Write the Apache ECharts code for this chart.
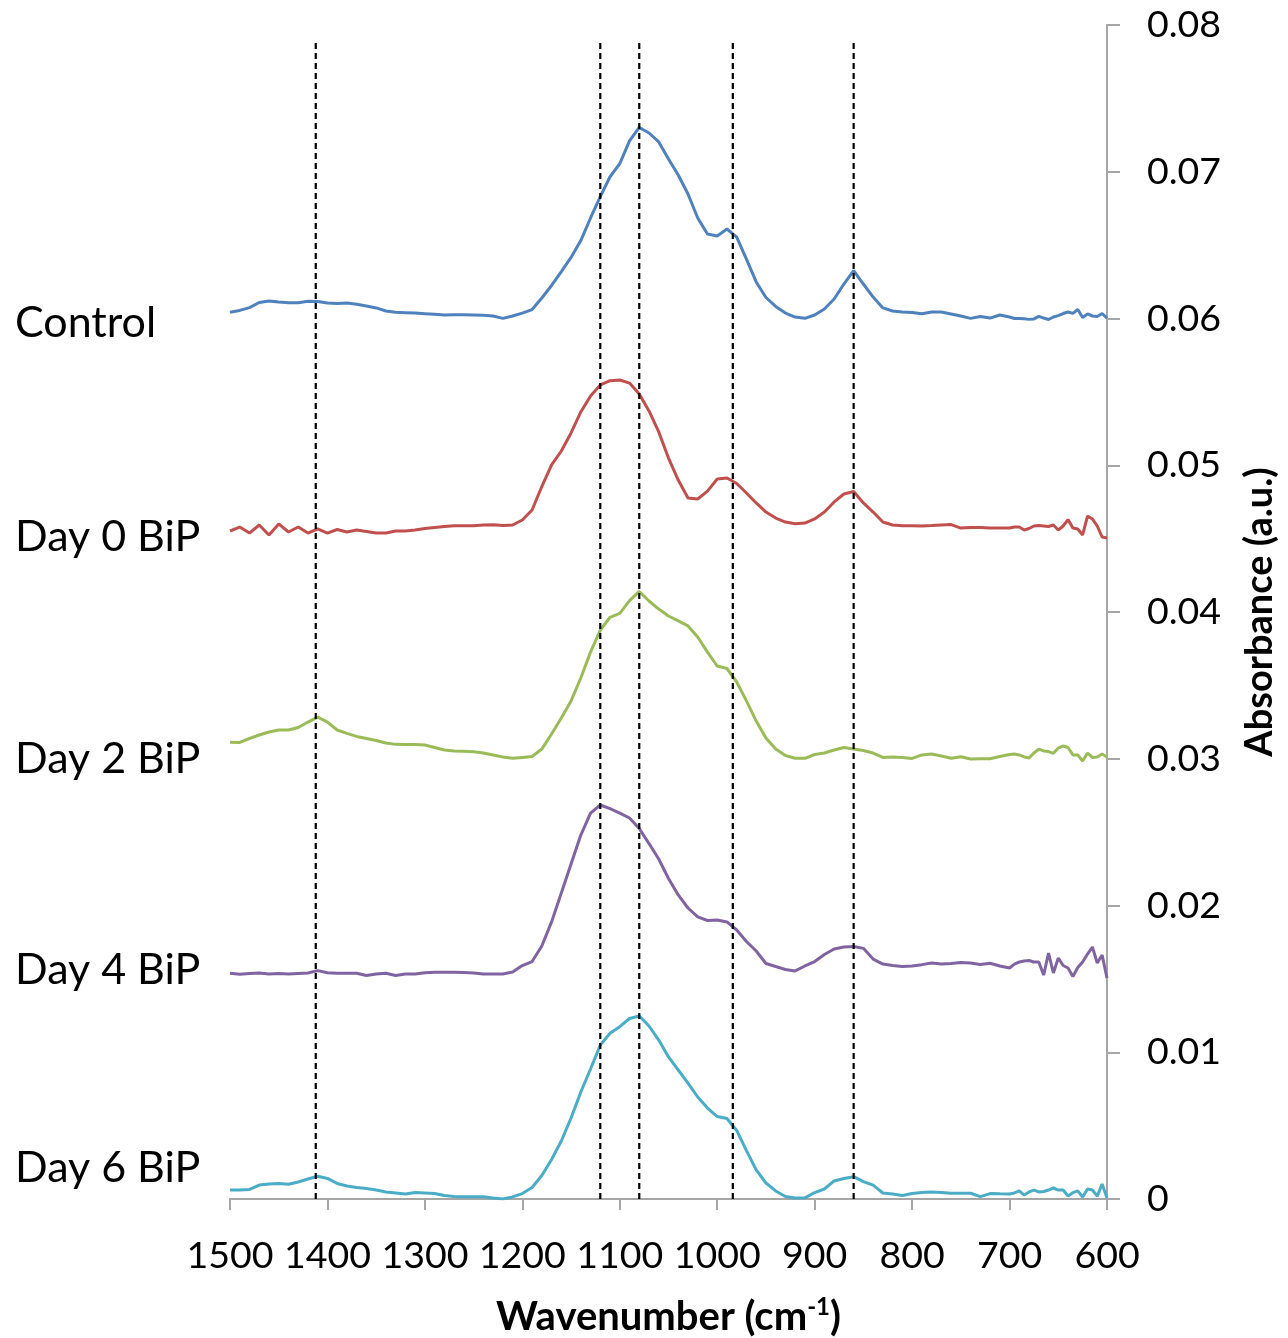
<!DOCTYPE html>
<html>
<head>
<meta charset="utf-8">
<script src="https://cdn.jsdelivr.net/npm/echarts@6/dist/echarts.min.js"></script>
<style>
  html, body { margin: 0; padding: 0; background: #ffffff; }
  #chart { width: 1288px; height: 1338px; }
</style>
</head>
<body>
<div id="chart"></div>
<script>
// Wavenumber grid (cm-1)
const wavenumbers = [
  1500,1490,1480,1470,1460,1450,1440,1430,1420,1410,
  1400,1390,1380,1370,1360,1350,1340,1330,1320,1310,
  1300,1290,1280,1270,1260,1250,1240,1230,1220,1210,
  1200,1190,1180,1170,1160,1150,1140,1130,1120,1110,
  1100,1090,1080,1070,1060,1050,1040,1030,1020,1010,
  1000,990,980,970,960,950,940,930,920,910,
  900,890,880,870,860,850,840,830,820,810,
  800,790,780,770,760,750,740,730,720,710,
  700,695,690,685,680,675,670,665,660,655,
  650,645,640,635,630,625,620,615,610,605,600
];

const control = [
  0.06042,0.06055,0.06074,0.06109,0.06119,0.06112,0.06108,0.06108,0.06117,0.06116,
  0.06106,0.06102,0.06106,0.06097,0.06085,0.06072,0.06051,0.06042,0.06040,0.06037,
  0.06033,0.06029,0.06024,0.06025,0.06026,0.06024,0.06022,0.06017,0.06001,0.06017,
  0.06037,0.06061,0.06140,0.06225,0.06320,0.06416,0.06531,0.06685,0.06831,0.06966,
  0.07056,0.07210,0.07302,0.07264,0.07203,0.07087,0.06978,0.06848,0.06685,0.06576,
  0.06562,0.06610,0.06555,0.06405,0.06249,0.06143,0.06082,0.06037,0.06010,0.06001,
  0.06024,0.06065,0.06133,0.06235,0.06326,0.06235,0.06146,0.06072,0.06051,0.06044,
  0.06041,0.06033,0.06044,0.06044,0.06031,0.06017,0.06001,0.06014,0.06003,0.06024,
  0.06010,0.06000,0.06000,0.05998,0.05994,0.05997,0.06014,0.06003,0.05993,0.06010,
  0.06020,0.06034,0.06044,0.06035,0.06061,0.06007,0.06031,0.06017,0.06014,0.06034,0.06003
];

const day0 = [
  0.04552,0.04579,0.04538,0.04593,0.04525,0.04600,0.04545,0.04579,0.04538,0.04566,
  0.04538,0.04562,0.04545,0.04559,0.04549,0.04538,0.04538,0.04552,0.04552,0.04559,
  0.04569,0.04576,0.04583,0.04588,0.04588,0.04588,0.04593,0.04595,0.04589,0.04593,
  0.04627,0.04695,0.04855,0.05002,0.05097,0.05220,0.05363,0.05472,0.05547,0.05576,
  0.05581,0.05560,0.05485,0.05370,0.05227,0.05049,0.04899,0.04777,0.04770,0.04824,
  0.04906,0.04913,0.04876,0.04811,0.04743,0.04681,0.04640,0.04613,0.04602,0.04606,
  0.04634,0.04681,0.04750,0.04804,0.04821,0.04743,0.04681,0.04613,0.04593,0.04588,
  0.04587,0.04586,0.04589,0.04593,0.04596,0.04572,0.04576,0.04576,0.04572,0.04572,
  0.04572,0.04579,0.04579,0.04559,0.04569,0.04586,0.04589,0.04586,0.04583,0.04593,
  0.04559,0.04586,0.04630,0.04572,0.04566,0.04525,0.04654,0.04634,0.04586,0.04511,0.04504
];

const day2 = [
  0.03112,0.03111,0.03138,0.03162,0.03182,0.03196,0.03196,0.03213,0.03250,0.03284,
  0.03250,0.03196,0.03173,0.03152,0.03138,0.03124,0.03107,0.03098,0.03097,0.03097,
  0.03094,0.03077,0.03060,0.03053,0.03051,0.03048,0.03039,0.03026,0.03012,0.03003,
  0.03009,0.03015,0.03066,0.03169,0.03278,0.03394,0.03550,0.03727,0.03877,0.03964,
  0.03990,0.04078,0.04140,0.04075,0.04020,0.03973,0.03939,0.03905,0.03830,0.03727,
  0.03632,0.03615,0.03523,0.03394,0.03257,0.03141,0.03066,0.03022,0.03003,0.03003,
  0.03029,0.03039,0.03060,0.03077,0.03066,0.03056,0.03039,0.03009,0.03012,0.03009,
  0.03002,0.03026,0.03032,0.03019,0.03003,0.03014,0.02998,0.03000,0.03000,0.03015,
  0.03029,0.03032,0.03026,0.03012,0.03005,0.03039,0.03066,0.03053,0.03049,0.03037,
  0.03073,0.03087,0.03077,0.03026,0.03026,0.02985,0.03039,0.03009,0.03012,0.03032,0.03012
];

const day4 = [
  0.01538,0.01531,0.01537,0.01540,0.01533,0.01537,0.01533,0.01537,0.01540,0.01556,
  0.01542,0.01538,0.01538,0.01538,0.01523,0.01533,0.01538,0.01523,0.01533,0.01533,
  0.01541,0.01545,0.01545,0.01545,0.01543,0.01540,0.01533,0.01533,0.01533,0.01547,
  0.01591,0.01618,0.01724,0.01888,0.02085,0.02283,0.02480,0.02630,0.02685,0.02660,
  0.02630,0.02596,0.02525,0.02422,0.02317,0.02184,0.02072,0.01983,0.01922,0.01898,
  0.01901,0.01888,0.01833,0.01755,0.01690,0.01605,0.01584,0.01564,0.01554,0.01588,
  0.01618,0.01666,0.01704,0.01717,0.01721,0.01708,0.01635,0.01601,0.01591,0.01584,
  0.01588,0.01597,0.01608,0.01601,0.01605,0.01612,0.01608,0.01598,0.01606,0.01588,
  0.01574,0.01601,0.01615,0.01622,0.01625,0.01615,0.01615,0.01526,0.01676,0.01540,
  0.01642,0.01591,0.01574,0.01516,0.01577,0.01615,0.01669,0.01717,0.01608,0.01663,0.01506
];

const day6 = [
  0.00061,0.00061,0.00065,0.00095,0.00102,0.00106,0.00100,0.00116,0.00136,0.00155,
  0.00140,0.00106,0.00089,0.00078,0.00072,0.00061,0.00048,0.00041,0.00034,0.00044,
  0.00041,0.00037,0.00024,0.00017,0.00016,0.00016,0.00016,0.00007,0.00000,0.00014,
  0.00037,0.00078,0.00160,0.00269,0.00395,0.00552,0.00729,0.00886,0.01049,0.01129,
  0.01174,0.01230,0.01247,0.01179,0.01083,0.00968,0.00879,0.00790,0.00695,0.00620,
  0.00562,0.00549,0.00467,0.00330,0.00198,0.00109,0.00055,0.00017,0.00007,0.00008,
  0.00044,0.00068,0.00123,0.00140,0.00152,0.00118,0.00095,0.00041,0.00034,0.00024,
  0.00037,0.00044,0.00048,0.00044,0.00039,0.00039,0.00039,0.00016,0.00037,0.00035,
  0.00034,0.00041,0.00055,0.00027,0.00048,0.00061,0.00048,0.00051,0.00061,0.00075,
  0.00061,0.00061,0.00020,0.00043,0.00055,0.00014,0.00068,0.00061,0.00020,0.00102,0.00007
];

const seriesNames = ['Control', 'Day 0 BiP', 'Day 2 BiP', 'Day 4 BiP', 'Day 6 BiP'];
const seriesValues = [control, day0, day2, day4, day6];
const seriesColors = ['#4F81BD', '#C0504D', '#9BBB59', '#8064A2', '#4BACC6'];

// Reference band positions (cm-1) drawn as dashed verticals
const bandLines = [1412, 1120, 1080, 984, 860];
const bandTop = 0.0788;

const xTicks = { min: 600, max: 1500, interval: 100 };
const yTicks = { min: 0, max: 0.08, interval: 0.01 };

const FONT = 'Lato, "Open Sans", "Noto Sans", sans-serif';
const axisGrey = '#A6A6A6';

const chart = echarts.init(document.getElementById('chart'), null, { renderer: 'canvas' });

const series = [];
seriesValues.forEach((vals, i) => {
  series.push({
    name: seriesNames[i],
    type: 'line',
    data: wavenumbers.map((w, k) => [w, vals[k]]),
    showSymbol: false,
    smooth: false,
    lineStyle: { color: seriesColors[i], width: 3 },
    itemStyle: { color: seriesColors[i] },
    z: 2,
    silent: true
  });
});
bandLines.forEach((w) => {
  series.push({
    type: 'line',
    data: [[w, 0], [w, bandTop]],
    showSymbol: false,
    lineStyle: { color: '#000', width: 2.2, type: [6, 4] },
    z: 5,
    silent: true
  });
});

const labelY = [323, 537, 759, 970, 1168];

const option = {
  backgroundColor: '#ffffff',
  animation: false,
  grid: { left: 230, right: 181, top: 25, bottom: 139, containLabel: false, outerBoundsMode: 'none' },
  xAxis: {
    type: 'value',
    min: xTicks.min, max: xTicks.max, interval: xTicks.interval,
    inverse: true,
    name: 'Wavenumber (cm{sup|-1})',
    nameLocation: 'middle',
    nameGap: 96,
    nameTextStyle: {
      fontFamily: FONT, fontSize: 40, fontWeight: 'bold', color: '#000',
      rich: { sup: { fontFamily: FONT, fontSize: 24, fontWeight: 'bold', color: '#000', verticalAlign: 'top', padding: [0, 0, 20, 0] } }
    },
    axisLine: { show: true, lineStyle: { color: axisGrey, width: 2 } },
    axisTick: { show: true, length: 11, lineStyle: { color: axisGrey, width: 2 } },
    splitLine: { show: false },
    axisLabel: { fontFamily: FONT, fontSize: 37.5, color: '#000', margin: 38, formatter: (v) => String(v) }
  },
  yAxis: {
    type: 'value',
    position: 'right',
    min: yTicks.min, max: yTicks.max, interval: yTicks.interval,
    name: 'Absorbance (a.u.)',
    nameLocation: 'middle',
    nameGap: 134,
    nameRotate: 90,
    nameTextStyle: { fontFamily: FONT, fontSize: 38, fontWeight: 'bold', color: '#000' },
    axisLine: { show: true, lineStyle: { color: axisGrey, width: 2 } },
    axisTick: { show: true, length: 13, lineStyle: { color: axisGrey, width: 2 } },
    splitLine: { show: false },
    axisLabel: {
      fontFamily: FONT, fontSize: 37.5, color: '#000', margin: 40,
      formatter: (v) => (v === 0 ? '0' : v.toFixed(2))
    }
  },
  graphic: seriesNames.map((n, i) => ({
    type: 'text',
    x: 15, y: labelY[i],
    style: { text: n, fontFamily: FONT, fontSize: 43, fill: '#000', align: 'left', verticalAlign: 'middle' },
    silent: true
  })),
  series: series
};

chart.setOption(option);
</script>
</body>
</html>
